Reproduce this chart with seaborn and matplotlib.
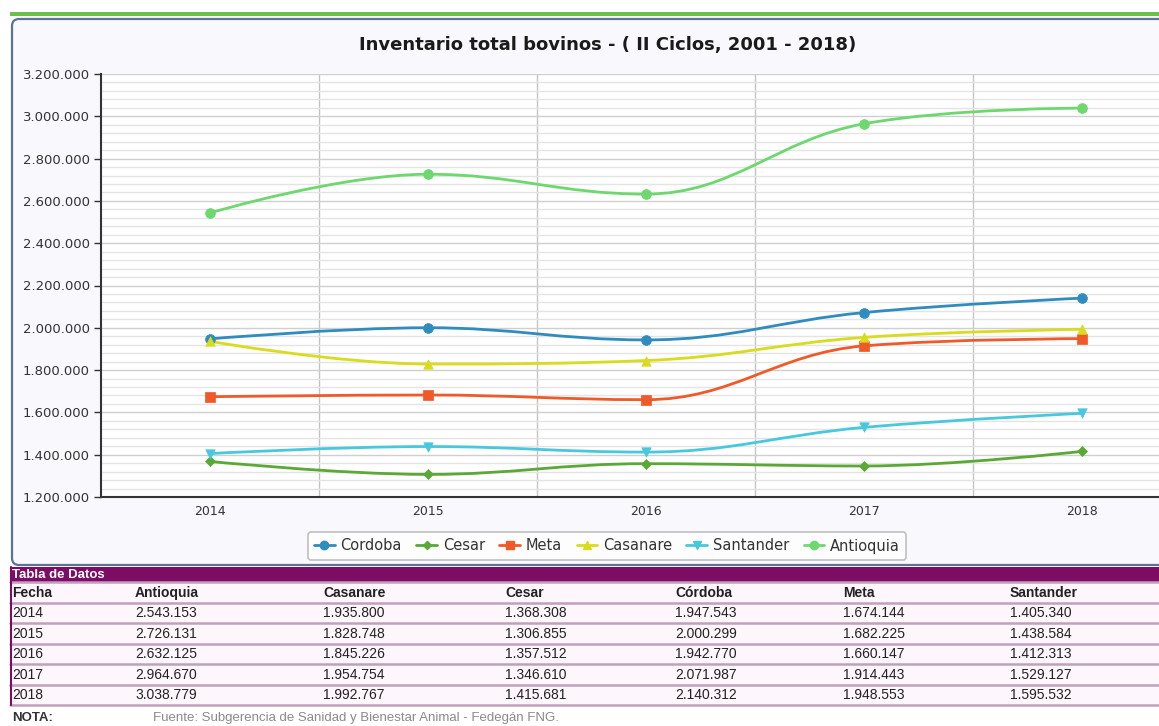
import numpy as np
import pandas as pd
import matplotlib
matplotlib.use("Agg")
import matplotlib.pyplot as plt
import seaborn as sns
from matplotlib.path import Path
from matplotlib.patches import PathPatch, FancyBboxPatch, Rectangle
from matplotlib.lines import Line2D
from matplotlib.ticker import FixedLocator, FuncFormatter

# ---------------- data ----------------
years = ["2014", "2015", "2016", "2017", "2018"]
regions = ["Cordoba", "Cesar", "Meta", "Casanare", "Santander", "Antioquia"]
cordoba = [1947543, 2000299, 1942770, 2071987, 2140312]
cesar = [1368308, 1306855, 1357512, 1346610, 1415681]
meta = [1674144, 1682225, 1660147, 1914443, 1948553]
casanare = [1935800, 1828748, 1845226, 1954754, 1992767]
santander = [1405340, 1438584, 1412313, 1529127, 1595532]
antioquia = [2543153, 2726131, 2632125, 2964670, 3038779]
series = {"Cordoba": cordoba, "Cesar": cesar, "Meta": meta, "Casanare": casanare,
          "Santander": santander, "Antioquia": antioquia}
colors = {"Cordoba": "#2e8cbf", "Cesar": "#5aa836", "Meta": "#ef5a28",
          "Casanare": "#d8dc1c", "Santander": "#48c8dc", "Antioquia": "#6cd86e"}
markers = {"Cordoba": "o", "Cesar": "D", "Meta": "s", "Casanare": "^",
           "Santander": "v", "Antioquia": "o"}
msizes = {"Cordoba": 50, "Cesar": 26, "Meta": 46, "Casanare": 46,
          "Santander": 46, "Antioquia": 50}

table_cols = ["Fecha", "Antioquia", "Casanare", "Cesar", "Córdoba", "Meta", "Santander"]
table_keys = [None, "Antioquia", "Casanare", "Cesar", "Cordoba", "Meta", "Santander"]

title = "Inventario total bovinos - ( II Ciclos, 2001 - 2018)"

# ---------------- setup ----------------
sns.set_theme(style="white")
plt.rcParams["font.family"] = ["DejaVu Sans"]

W, H = 1159, 726
fig = plt.figure(figsize=(W / 100, H / 100), dpi=100)
fig.patch.set_facecolor("white")

# overlay axes in pixel coordinates for panel / table decorations
bg = fig.add_axes([0, 0, 1, 1], zorder=0)
bg.set_xlim(0, W)
bg.set_ylim(H, 0)
bg.axis("off")

# green top bar and panel
bg.add_patch(Rectangle((10, 12), W, 4, facecolor="#6cbf4a", edgecolor="none"))
bg.add_patch(FancyBboxPatch((12, 19), 1170, 546,
                            boxstyle="round,pad=0,rounding_size=7",
                            facecolor="#f8f8fd", edgecolor="#5a7594", lw=1.6))
bg.text(608, 45, title, ha="center", va="center", fontsize=13, fontweight="bold",
        color="#1a1a1a")

# ---------------- chart axes ----------------
left_px, right_px, top_px, bot_px = 101, 1191, 74, 497
ax = fig.add_axes([left_px / W, 1 - bot_px / H, (right_px - left_px) / W,
                   (bot_px - top_px) / H], zorder=1)
ax.set_facecolor("white")
ax.set_xlim(-0.5, 4.5)
ax.set_ylim(1200000, 3200000)

# grid
ax.yaxis.set_major_locator(FixedLocator(np.arange(1200000, 3200001, 200000)))
ax.yaxis.set_minor_locator(FixedLocator(np.arange(1200000, 3200001, 40000)))
ax.grid(which="minor", axis="y", color="#e4e4e4", lw=1.0)
ax.grid(which="major", axis="y", color="#cfcfcf", lw=1.0)
ax.xaxis.set_major_locator(FixedLocator(range(len(years))))
ax.xaxis.set_minor_locator(FixedLocator([0.5, 1.5, 2.5, 3.5]))
ax.grid(which="minor", axis="x", color="#c4c4c4", lw=1.0)
ax.grid(which="major", axis="x", visible=False)
ax.set_axisbelow(True)

ax.set_xticklabels(years)
ax.yaxis.set_major_formatter(FuncFormatter(lambda v, p: f"{int(v):,}".replace(",", ".")))
ax.tick_params(axis="x", which="major", length=0, pad=6, labelsize=9, labelcolor="#333333")
ax.tick_params(axis="x", which="minor", length=6, width=1, color="#333333", direction="out")
ax.tick_params(axis="y", which="major", length=5, width=1, color="#333333", pad=3,
               labelsize=9.5, labelcolor="#333333", left=True)
ax.tick_params(axis="y", which="minor", length=0)

for s in ["top", "right"]:
    ax.spines[s].set_visible(False)
for s in ["left", "bottom"]:
    ax.spines[s].set_color("#333333")
    ax.spines[s].set_linewidth(1.5)


def spline_path(xs, ys, smoothing=1.5):
    n = len(xs)
    denom = smoothing + 1
    left = [(xs[i], ys[i]) for i in range(n)]
    right = [(xs[i], ys[i]) for i in range(n)]
    for i in range(1, n - 1):
        px, py = xs[i], ys[i]
        lx, ly = xs[i - 1], ys[i - 1]
        nx, ny = xs[i + 1], ys[i + 1]
        lcx = (smoothing * px + lx) / denom
        lcy = (smoothing * py + ly) / denom
        rcx = (smoothing * px + nx) / denom
        rcy = (smoothing * py + ny) / denom
        corr = (rcy - lcy) * (rcx - px) / (rcx - lcx) + py - rcy
        lcy += corr
        rcy += corr
        if lcy > ly and lcy > py:
            lcy = max(ly, py); rcy = 2 * py - lcy
        elif lcy < ly and lcy < py:
            lcy = min(ly, py); rcy = 2 * py - lcy
        if rcy > ny and rcy > py:
            rcy = max(ny, py); lcy = 2 * py - rcy
        elif rcy < ny and rcy < py:
            rcy = min(ny, py); lcy = 2 * py - rcy
        left[i] = (lcx, lcy)
        right[i] = (rcx, rcy)
    verts = [(xs[0], ys[0])]
    codes = [Path.MOVETO]
    for i in range(1, n):
        verts += [right[i - 1], left[i], (xs[i], ys[i])]
        codes += [Path.CURVE4] * 3
    return Path(verts, codes)


xs = list(range(len(years)))
for r in regions:
    ax.add_patch(PathPatch(spline_path(xs, series[r]), facecolor="none",
                           edgecolor=colors[r], lw=2, zorder=3))

df = pd.DataFrame([{"x": i, "value": series[r][i], "region": r}
                   for r in regions for i in range(len(years))])
for r in regions:
    sub = df[df.region == r]
    sns.scatterplot(data=sub, x="x", y="value", ax=ax, color=colors[r],
                    marker=markers[r], s=msizes[r], edgecolor=colors[r],
                    linewidth=0.5, legend=False, zorder=4)
ax.set_xlabel("")
ax.set_ylabel("")

# legend
handles = [Line2D([0], [0], color=colors[r], lw=2, marker=markers[r],
                  markersize=6 if markers[r] != "D" else 4.5,
                  markeredgecolor=colors[r]) for r in regions]
leg = fig.legend(handles, regions, loc="center", bbox_to_anchor=(607 / W, 1 - 546 / H),
                 ncol=6, fontsize=10.5, frameon=True, fancybox=True, handlelength=1.4,
                 handletextpad=0.4, columnspacing=1.0, borderpad=0.45)
leg.get_frame().set_edgecolor("#b0b0b0")
leg.get_frame().set_facecolor("white")
leg.get_frame().set_linewidth(1.2)
for t in leg.get_texts():
    t.set_color("#333333")

# ---------------- data table ----------------
tfont = ["Liberation Sans", "DejaVu Sans"]
bg.add_patch(Rectangle((10, 567), W, 15, facecolor="#7c0c64", edgecolor="none"))
bg.text(12, 575, "Tabla de Datos", ha="left", va="center", fontsize=9.5,
        fontweight="bold", color="white", family=tfont)
col_x = [12, 135, 323, 505, 675, 843, 1010]
row_top = 582
row_h = 20.5
n_rows = len(years) + 1
bg.add_patch(Rectangle((10, row_top), W, row_h * n_rows, facecolor="#fdf6fb",
                       edgecolor="none"))
for j in range(n_rows + 1):
    yline = row_top + j * row_h
    bg.plot([10, W], [yline, yline], color="#c0a0bc", lw=1.8)
bg.plot([10.5, 10.5], [567, row_top + row_h * n_rows], color="#7c0c64", lw=1.5)

for c, name in enumerate(table_cols):
    bg.text(col_x[c], row_top + row_h / 2 + 0.5, name, ha="left", va="center",
            fontsize=10, fontweight="bold", color="#222222", family=tfont)
for i, yr in enumerate(years):
    yc = row_top + (i + 1.5) * row_h + 0.5
    for c, key in enumerate(table_keys):
        txt = yr if key is None else f"{series[key][i]:,}".replace(",", ".")
        bg.text(col_x[c], yc, txt, ha="left", va="center", fontsize=10,
                color="#222222", family=tfont)

bg.text(12, 718, "NOTA:", ha="left", va="center", fontsize=9.5, fontweight="bold",
        color="#333333", family=tfont)
bg.text(153, 718, "Fuente: Subgerencia de Sanidad y Bienestar Animal - Fedegán FNG.",
        ha="left", va="center", fontsize=9.5, color="#8a8a8a", family=tfont)

fig.savefig("out.png", dpi=100)
